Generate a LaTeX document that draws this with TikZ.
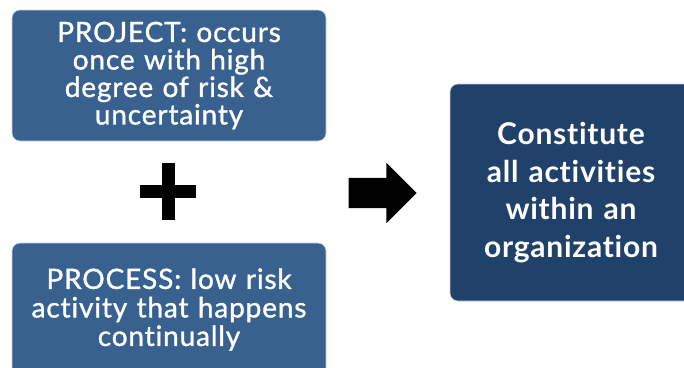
\documentclass[tikz,border=0pt]{standalone}
\usepackage{fontspec}
\setmainfont{Lato}[Ligatures=NoCommon]
\newfontfamily\boxfont{Lato}[FakeBold=1.2, LetterSpace=3, Ligatures=NoCommon]
\newfontfamily\bigboxfont{Lato Bold}[LetterSpace=2.5, Ligatures=NoCommon]
\usetikzlibrary{shapes.arrows, positioning}
\definecolor{stepblue}{HTML}{38618F}
\definecolor{deepblue}{HTML}{20416A}

\begin{document}
\begin{tikzpicture}[x=1pt, y=-1pt,
    box/.style={fill=stepblue, draw=white!75!stepblue, line width=0.6pt, rounded corners=8pt,
      text=white, align=center, inner sep=0pt, font=\boxfont\fontsize{28}{27.5}\selectfont},
    bigbox/.style={box, fill=deepblue, draw=white!75!deepblue, font=\bigboxfont\fontsize{30}{37.5}\selectfont},
    blockarrow/.style={single arrow, fill=black, inner sep=15pt, minimum height=68pt,
      minimum width=60pt, single arrow head extend=15pt}
  ]
  \useasboundingbox (0,0) rectangle (684,367);

  \node[box, minimum width=314pt, minimum height=131pt, text width=310pt] (project) at (169, 75.5)
    {PROJECT: occurs\\ once with high\\ degree of risk \&\\ uncertainty};
  \node[box, minimum width=314pt, minimum height=133pt, text width=310pt,
    font=\boxfont\fontsize{28}{28.5}\selectfont] (process) at (169, 309.5)
    {PROCESS: low risk\\ activity that happens\\ continually};

  % plus sign
  \fill (140, 185) rectangle (196, 198);
  \fill (162, 163) rectangle (175, 220);

  \node[blockarrow] (arrow) at (375, 193) {};

  \node[bigbox, minimum width=242pt, minimum height=217pt, text width=238pt] (whole) at (571, 192.5)
    {Constitute\\ all activities\\ within an\\ organization};
\end{tikzpicture}
\end{document}
